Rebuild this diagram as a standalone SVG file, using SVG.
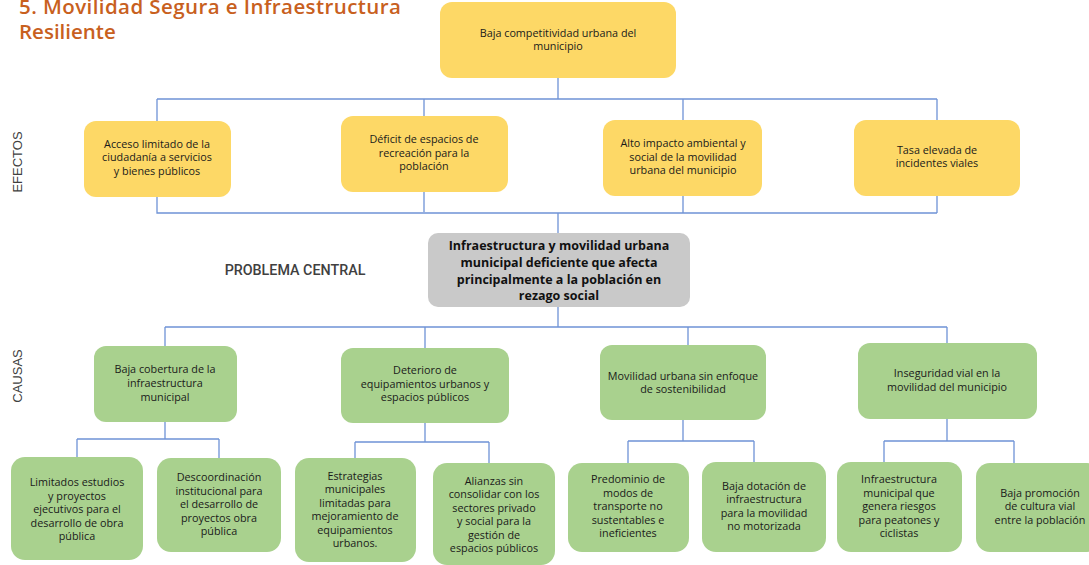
<svg xmlns="http://www.w3.org/2000/svg" width="1089" height="565" viewBox="0 0 1089 565">
<style>
.y{fill:#FDD866}
.g{fill:#A9D18E}
.c{fill:#C9C9C9}
.t{font-family:"Open Sans","Noto Sans",sans-serif;font-size:10.8px;fill:#1a1a1a;text-anchor:middle}
.tb{font-family:"Open Sans","Noto Sans",sans-serif;font-size:12.5px;font-weight:700;fill:#111;text-anchor:middle}
.side{font-family:"Liberation Sans",Arial,sans-serif;font-size:13px;fill:#404040;text-anchor:middle}
.ln{fill:none;stroke:#6F93D6;stroke-width:1.3}
</style>
<rect width="1089" height="565" fill="#fff"/>
<g id="title" font-family="'Open Sans','Noto Sans',sans-serif" font-weight="600" font-size="20.5" fill="#C8601E">
<text x="19" y="14" textLength="382">5. Movilidad Segura e Infraestructura</text>
<text x="19" y="39">Resiliente</text>
</g>
<text class="side" transform="translate(22,162) rotate(-90)">EFECTOS</text>
<text class="side" transform="translate(22,376) rotate(-90)">CAUSAS</text>
<text x="295" y="275" font-family="Roboto,'Liberation Sans',sans-serif" font-weight="500" font-size="14.3" fill="#404040" text-anchor="middle">PROBLEMA CENTRAL</text>
<g id="connectors" class="ln">
<path d="M558 78V99M157 99H937M157 99V121M424 99V116M683 99V120M937 99V120"/>
<path d="M157 197V213H937M424 192V212M683 196V213M937 196V213M558 213V233"/>
<path d="M558 307V327M165 327H947M165 327V346M425 327V348M688 327V345M947 327V343"/>
<path d="M165 422V439M77 439H219M77 439V457M219 439V458"/>
<path d="M425 423V442M355 442H489M355 442V458M489 442V463"/>
<path d="M683 420V441M628 441H754M628 441V463M754 441V462"/>
<path d="M947 419V441M884 441H1014M884 441V462M1014 441V463"/>
</g>
<g id="top"><rect class="y" x="440" y="2" width="236" height="76" rx="12"/>
<text class="t" x="558" y="37">Baja competitividad urbana del</text><text class="t" x="558" y="50">municipio</text></g>
<g id="e1"><rect class="y" x="84" y="121" width="147" height="76" rx="12"/>
<text class="t" x="157" y="148">Acceso limitado de la</text><text class="t" x="157" y="161">ciudadanía a servicios</text><text class="t" x="157" y="175">y bienes públicos</text></g>
<g id="e2"><rect class="y" x="341" y="116" width="167" height="76" rx="12"/>
<text class="t" x="424" y="143">Déficit de espacios de</text><text class="t" x="424" y="157">recreación para la</text><text class="t" x="424" y="170">población</text></g>
<g id="e3"><rect class="y" x="603" y="120" width="159" height="76" rx="12"/>
<text class="t" x="683" y="147">Alto impacto ambiental y</text><text class="t" x="683" y="161">social de la movilidad</text><text class="t" x="683" y="174">urbana del municipio</text></g>
<g id="e4"><rect class="y" x="854" y="120" width="166" height="76" rx="12"/>
<text class="t" x="937" y="154">Tasa elevada de</text><text class="t" x="937" y="167">incidentes viales</text></g>
<g id="central"><rect class="c" x="428" y="233" width="262" height="74" rx="10"/>
<text class="tb" x="559" y="250">Infraestructura y movilidad urbana</text><text class="tb" x="559" y="267">municipal deficiente que afecta</text><text class="tb" x="559" y="284">principalmente a la población en</text><text class="tb" x="559" y="300">rezago social</text></g>
<g id="c1"><rect class="g" x="94" y="346" width="143" height="76" rx="12"/>
<text class="t" x="165" y="373">Baja cobertura de la</text><text class="t" x="165" y="387">infraestructura</text><text class="t" x="165" y="401">municipal</text></g>
<g id="c2"><rect class="g" x="341" y="348" width="168" height="75" rx="12"/>
<text class="t" x="425" y="374">Deterioro de</text><text class="t" x="425" y="388">equipamientos urbanos y</text><text class="t" x="425" y="401">espacios públicos</text></g>
<g id="c3"><rect class="g" x="600" y="345" width="166" height="75" rx="12"/>
<text class="t" x="683" y="380">Movilidad urbana sin enfoque</text><text class="t" x="683" y="393">de sostenibilidad</text></g>
<g id="c4"><rect class="g" x="858" y="343" width="179" height="76" rx="12"/>
<text class="t" x="947" y="377">Inseguridad vial en la</text><text class="t" x="947" y="391">movilidad del municipio</text></g>
<g id="l1"><rect class="g" x="11" y="457" width="132" height="103" rx="14"/>
<text class="t" x="77" y="486">Limitados estudios</text><text class="t" x="77" y="500">y proyectos</text><text class="t" x="77" y="513">ejecutivos para el</text><text class="t" x="77" y="527">desarrollo de obra</text><text class="t" x="77" y="540">pública</text></g>
<g id="l2"><rect class="g" x="157" y="458" width="124" height="94" rx="14"/>
<text class="t" x="219" y="481">Descoordinación</text><text class="t" x="219" y="495">institucional para</text><text class="t" x="219" y="508">el desarrollo de</text><text class="t" x="219" y="522">proyectos obra</text><text class="t" x="219" y="535">pública</text></g>
<g id="l3"><rect class="g" x="295" y="458" width="121" height="104" rx="14"/>
<text class="t" x="355" y="480">Estrategias</text><text class="t" x="355" y="493">municipales</text><text class="t" x="355" y="507">limitadas para</text><text class="t" x="355" y="520">mejoramiento de</text><text class="t" x="355" y="534">equipamientos</text><text class="t" x="355" y="547">urbanos.</text></g>
<g id="l4"><rect class="g" x="433" y="463" width="122" height="102" rx="14"/>
<text class="t" x="494" y="485">Alianzas sin</text><text class="t" x="494" y="498">consolidar con los</text><text class="t" x="494" y="512">sectores privado</text><text class="t" x="494" y="525">y social para la</text><text class="t" x="494" y="539">gestión de</text><text class="t" x="494" y="552">espacios públicos</text></g>
<g id="l5"><rect class="g" x="568" y="463" width="121" height="89" rx="14"/>
<text class="t" x="628" y="483">Predominio de</text><text class="t" x="628" y="497">modos de</text><text class="t" x="628" y="510">transporte no</text><text class="t" x="628" y="524">sustentables e</text><text class="t" x="628" y="537">ineficientes</text></g>
<g id="l6"><rect class="g" x="702" y="462" width="124" height="90" rx="14"/>
<text class="t" x="764" y="490">Baja dotación de</text><text class="t" x="764" y="503">infraestructura</text><text class="t" x="764" y="517">para la movilidad</text><text class="t" x="764" y="530">no motorizada</text></g>
<g id="l7"><rect class="g" x="837" y="462" width="125" height="90" rx="14"/>
<text class="t" x="899" y="483">Infraestructura</text><text class="t" x="899" y="497">municipal que</text><text class="t" x="899" y="510">genera riesgos</text><text class="t" x="899" y="524">para peatones y</text><text class="t" x="899" y="537">ciclistas</text></g>
<g id="l8"><rect class="g" x="976" y="463" width="125" height="89" rx="14"/>
<text class="t" x="1040" y="497">Baja promoción</text><text class="t" x="1040" y="510">de cultura vial</text><text class="t" x="1040" y="524">entre la población</text></g>
</svg>
